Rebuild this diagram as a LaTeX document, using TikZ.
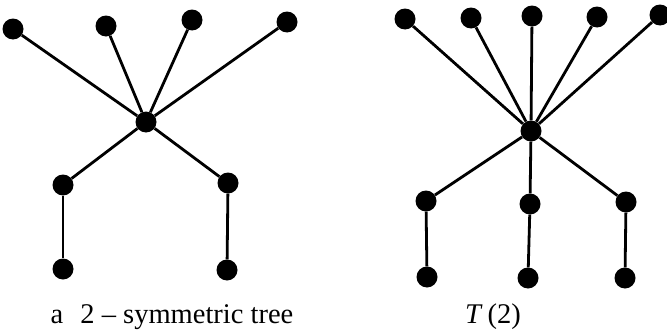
\documentclass[tikz,border=0pt]{standalone}
\usepackage{fontspec}
\setmainfont{Liberation Serif}
\begin{document}
\begin{tikzpicture}[x=1pt,y=-1pt,
  dot/.style={circle,fill=black,inner sep=0pt,minimum size=21pt},
  edge/.style={line width=2.8pt},
  lbl/.style={anchor=base,font=\fontsize{28.5}{32}\selectfont,inner sep=0pt}]
\useasboundingbox (0,0) rectangle (667,332);
% left tree
\node[dot] (c) at (146,122) {};
\node[dot] (t1) at (13,29) {};
\node[dot] (t2) at (106,26) {};
\node[dot] (t3) at (192,20) {};
\node[dot] (t4) at (287,22) {};
\node[dot] (m1) at (63,185) {};
\node[dot] (m2) at (228,183) {};
\node[dot] (b1) at (63,269) {};
\node[dot] (b2) at (227,270) {};
\foreach \n in {t1,t2,t3,t4,m1,m2} \draw[edge] (c) -- (\n);
\draw[edge] (m1) -- (b1);
\draw[edge] (m2) -- (b2);
% right tree
\node[dot] (C) at (531,131) {};
\node[dot] (T1) at (405,19) {};
\node[dot] (T2) at (471,18) {};
\node[dot] (T3) at (532,16) {};
\node[dot] (T4) at (597,17) {};
\node[dot] (T5) at (660,15) {};
\node[dot] (M1) at (426,201) {};
\node[dot] (M2) at (530,204) {};
\node[dot] (M3) at (626,202) {};
\node[dot] (B1) at (427,277) {};
\node[dot] (B2) at (528,278) {};
\node[dot] (B3) at (625,278) {};
\foreach \n in {T1,T2,T3,T4,T5,M1,M2,M3} \draw[edge] (C) -- (\n);
\draw[edge] (M1) -- (B1);
\draw[edge] (M2) -- (B2);
\draw[edge] (M3) -- (B3);
% labels
\node[lbl] (l1) at (172,323) {a\hspace{0.6em}2 -- symmetric tree};
\node[lbl] (l2) at (493,323) {\textit{T}\,(2)};
\end{tikzpicture}
\end{document}
